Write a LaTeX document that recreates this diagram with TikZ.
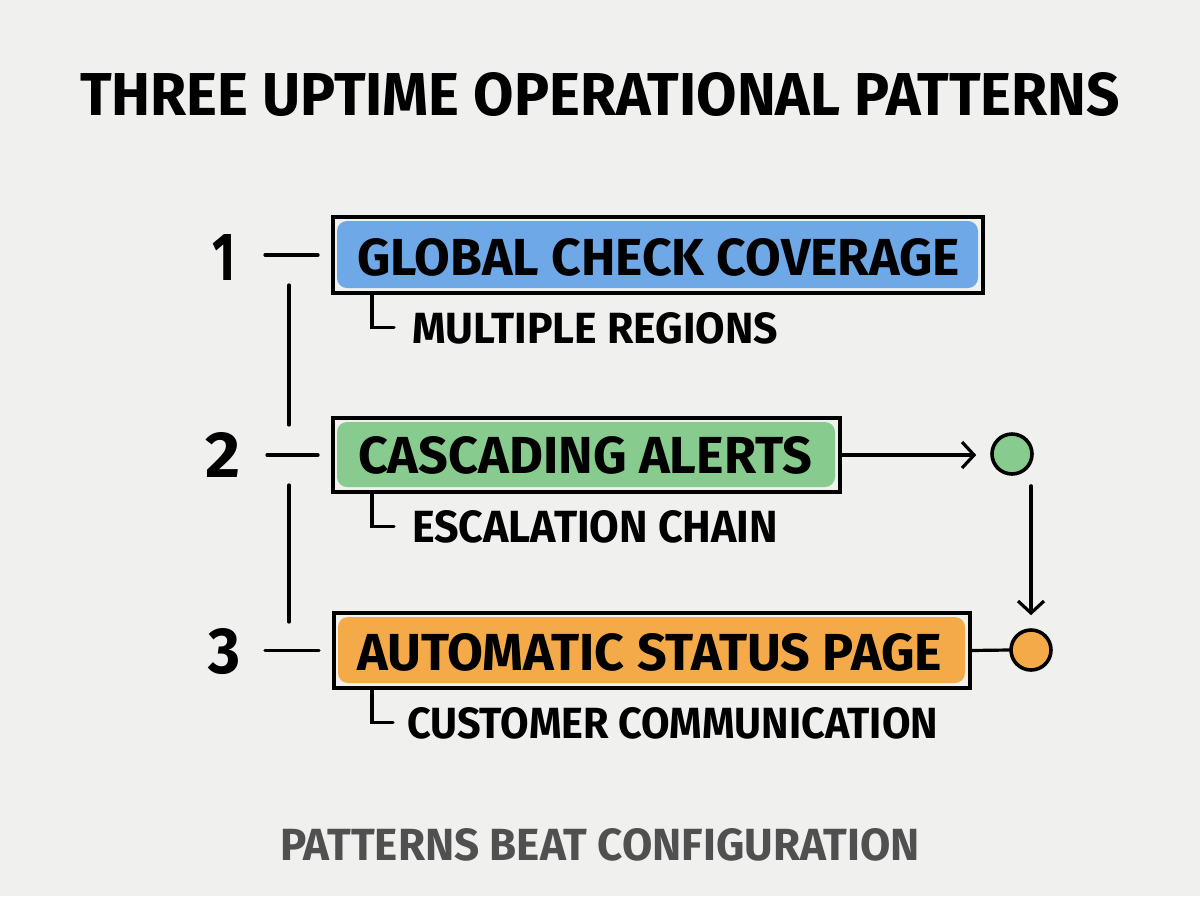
\documentclass[tikz,border=0pt]{standalone}
\usepackage{fontspec}
\setmainfont{Fira Sans}
\usepackage{graphicx}
\usetikzlibrary{arrows.meta,calc}
\definecolor{bg}{HTML}{F0F0EE}
\definecolor{cblue}{HTML}{6EA8E6}
\definecolor{cgreen}{HTML}{88CB8E}
\definecolor{corange}{HTML}{F5AA4A}
\definecolor{foot}{HTML}{505050}
\newlength\upx
\setlength\upx{0.5pt}
\newcommand{\fitt}[3]{\resizebox{#1\upx}{#2\upx}{\bfseries #3}}
\tikzset{
  txt/.style={inner sep=0pt, outer sep=0pt, anchor=base west},
  boxframe/.style={draw=black, line width=2pt, inner sep=0pt, outer sep=0pt},
  conn/.style={draw=black, line width=1.6pt, line cap=round},
  arr/.style={conn, -{Straight Barb[length=6pt,width=13pt]}},
  dot/.style={circle, draw=black, line width=1.8pt, minimum size=20pt, inner sep=0pt}
}
\begin{document}
\begin{tikzpicture}[x=0.5pt,y=-0.5pt]
\useasboundingbox (0,0) rectangle (1200,896);
\fill[bg] (0,0) rectangle (1200,896);

% title
\node[txt] (title) at (80,115) {\fitt{1040}{43}{THREE UPTIME OPERATIONAL PATTERNS}};

% numbers
\node[txt] (n1) at (212,280) {\fitt{23}{46}{1}};
\node[txt] (n2) at (205,477) {\fitt{35}{45}{2}};
\node[txt] (n3) at (208,673) {\fitt{32}{45}{3}};

% boxes
\node[boxframe, minimum width=325pt, minimum height=38pt] (b1) at (658,255) {};
\fill[cblue, rounded corners=5pt] ([shift={(4,4)}]b1.north west) rectangle ([shift={(-5,-5)}]b1.south east);
\node[txt] (l1) at (357,275) {\fitt{603}{37}{GLOBAL CHECK COVERAGE}};

\node[boxframe, minimum width=253.5pt, minimum height=37pt] (b2) at (586.5,455) {};
\fill[cgreen, rounded corners=5pt] ([shift={(4,4)}]b2.north west) rectangle ([shift={(-5,-5)}]b2.south east);
\node[txt] (l2) at (358,473) {\fitt{454}{37}{CASCADING ALERTS}};

\node[boxframe, minimum width=318pt, minimum height=37.5pt] (b3) at (652,650.5) {};
\fill[corange, rounded corners=5pt] ([shift={(4,4)}]b3.north west) rectangle ([shift={(-5,-5)}]b3.south east);
\node[txt] (l3) at (357,670) {\fitt{585}{37}{AUTOMATIC STATUS PAGE}};

% sub labels
\node[txt] (s1) at (412,343) {\fitt{366}{31}{MULTIPLE REGIONS}};
\node[txt] (s2) at (412,542) {\fitt{366}{32}{ESCALATION CHAIN}};
\node[txt] (s3) at (407,738) {\fitt{531}{31}{CUSTOMER COMMUNICATION}};

\draw[conn] ([xshift=19.5pt]b1.south west) |- ([xshift=-9pt]s1.west);
\draw[conn] ([xshift=19.5pt]b2.south west) |- ([xshift=-9pt]s2.west);
\draw[conn] ([xshift=19pt]b3.south west) |- ([xshift=-7pt]s3.west);

% dashes from numbers to boxes
\draw[conn] ([xshift=15pt]n1.east |- b1.west) -- ([xshift=-7.5pt]b1.west);
\draw[conn] ([xshift=13.5pt]n2.east |- b2.west) -- ([xshift=-7.5pt]b2.west);
\draw[conn] ([xshift=12.5pt]n3.east |- b3.west) -- ([xshift=-7.5pt]b3.west);

% left spine
\coordinate (sp1a) at (289,285);
\coordinate (sp1b) at (289,425);
\coordinate (sp2a) at (289,485);
\coordinate (sp2b) at (289,622);
\draw[conn] (sp1a) -- (sp1b);
\draw[conn] (sp2a) -- (sp2b);

% circles
\node[dot, fill=cgreen] (g) at (1012,454) {};
\node[dot, fill=corange] (o) at (1031,650) {};

\draw[arr, shorten >=7pt] (b2.east) -- (b2.east -| g.west);
\draw[arr, shorten <=5pt, shorten >=6.5pt] (g.south -| o.north) -- (o.north);
\draw[conn] (b3.east) -- (o.west);

% footer
\node[txt] (footer) at (280,860) {\color{foot}\fitt{640}{32}{PATTERNS BEAT CONFIGURATION}};
\end{tikzpicture}
\end{document}
